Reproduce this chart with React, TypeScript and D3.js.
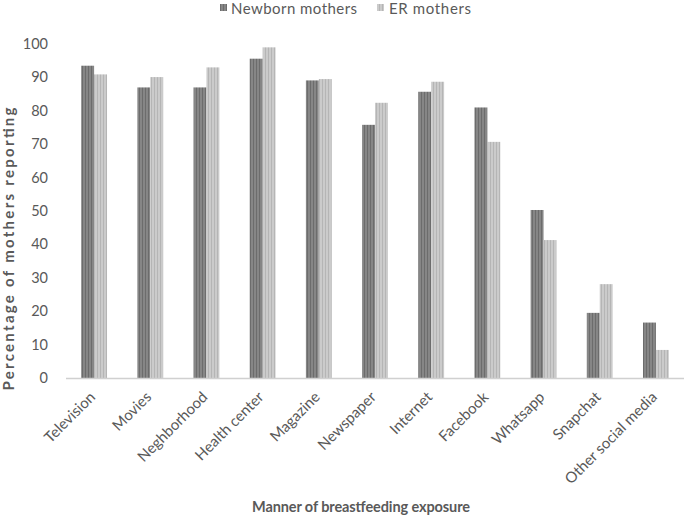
import * as d3 from 'd3';

const WIDTH = 685;
const HEIGHT = 523;
const MARGINS = { top: 44, right: 1, bottom: 145, left: 66 };

const categories = [
  'Television',
  'Movies',
  'Neghborhood',
  'Health center',
  'Magazine',
  'Newspaper',
  'Internet',
  'Facebook',
  'Whatsapp',
  'Snapchat',
  'Other social media',
];
const seriesNames = ['Newborn mothers', 'ER mothers'];
const newbornValues = [93.5, 87, 87, 95.6, 89.1, 75.8, 85.7, 81, 50.3, 19.5, 16.6];
const erValues = [90.9, 90.1, 93, 99, 89.5, 82.4, 88.7, 70.7, 41.3, 28.1, 8.4];
const yTicks = [0, 10, 20, 30, 40, 50, 60, 70, 80, 90, 100];

const FONT = 'Lato, "Open Sans", sans-serif';
const TEXT = '#595959';

export default function App() {
  const innerW = WIDTH - MARGINS.left - MARGINS.right;
  const innerH = HEIGHT - MARGINS.top - MARGINS.bottom;

  const x = d3.scaleBand().domain(categories).range([0, innerW]).paddingInner(0.54).paddingOuter(0.27);
  const x1 = d3.scaleBand().domain(seriesNames).range([0, x.bandwidth()]);
  const y = d3.scaleLinear().domain([0, 100]).range([innerH, 0]);

  const fills = ['url(#darkStripe)', 'url(#lightStripe)'];
  const series = [newbornValues, erValues];

  return (
    <div style={{ position: 'absolute', left: 0, top: 0 }}>
      <svg width={WIDTH} height={HEIGHT} style={{ display: 'block', background: '#fff' }}>
        <defs>
          <pattern id="darkStripe" width={3} height={4} patternUnits="userSpaceOnUse">
            <rect width={3} height={4} fill="#868686" />
            <rect x={1} width={1} height={4} fill="#6c6c6c" />
          </pattern>
          <pattern id="lightStripe" width={3} height={4} patternUnits="userSpaceOnUse">
            <rect width={3} height={4} fill="#cbcbcb" />
            <rect x={1} width={1} height={4} fill="#b5b5b5" />
          </pattern>
        </defs>

        {/* legend */}
        <g fontFamily={FONT} fontSize={15} fill={TEXT}>
          <rect x={220} y={4} width={7} height={7} fill="url(#darkStripe)" />
          <text x={231} y={14} textLength={126}>{seriesNames[0]}</text>
          <rect x={377} y={4} width={7} height={7} fill="url(#lightStripe)" />
          <text x={389} y={14} textLength={82}>{seriesNames[1]}</text>
        </g>

        <g transform={`translate(${MARGINS.left},${MARGINS.top})`}>
          {/* y tick labels */}
          {yTicks.map((t) => (
            <text
              key={t}
              x={-18}
              y={y(t)}
              dy="0.35em"
              textAnchor="end"
              fontFamily={FONT}
              fontSize={14.5}
              fill={TEXT}
            >
              {t}
            </text>
          ))}

          {/* bars */}
          {series.map((vals, si) =>
            categories.map((c, i) => (
              <rect
                key={`${si}-${c}`}
                x={(x(c) ?? 0) + (x1(seriesNames[si]) ?? 0)}
                y={y(vals[i])}
                width={x1.bandwidth()}
                height={innerH - y(vals[i])}
                fill={fills[si]}
              />
            )),
          )}

          {/* baseline */}
          <line x1={0} x2={innerW} y1={innerH + 0.5} y2={innerH + 0.5} stroke="#d0d0d0" strokeWidth={1.5} />

          {/* x tick labels */}
          {categories.map((c) => (
            <text
              key={c}
              transform={`translate(${(x(c) ?? 0) + x.bandwidth() / 2 + 2},${innerH + 20}) rotate(-45)`}
              textAnchor="end"
              fontFamily={FONT}
              fontSize={15}
              fill={TEXT}
            >
              {c}
            </text>
          ))}
        </g>

        {/* axis titles */}
        <text
          transform="translate(14,249) rotate(-90)"
          textAnchor="middle"
          fontFamily={FONT}
          fontSize={15}
          fontWeight="bold"
          fill={TEXT}
          textLength={283}
        >
          Percentage of mothers reporting
        </text>
        <text
          x={361}
          y={512}
          textAnchor="middle"
          fontFamily={FONT}
          fontSize={14.5}
          fontWeight="bold"
          fill={TEXT}
          textLength={218}
        >
          Manner of breastfeeding exposure
        </text>
      </svg>
    </div>
  );
}
